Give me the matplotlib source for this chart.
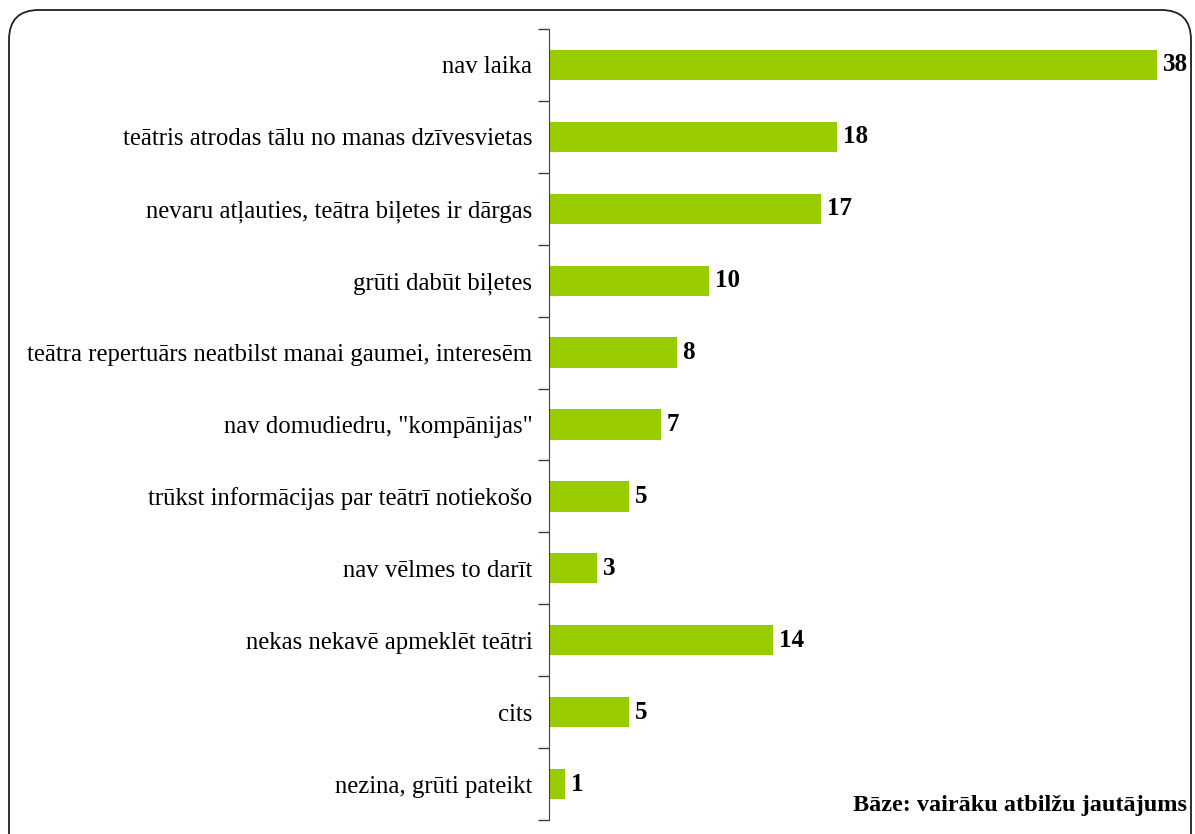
import numpy as np
import matplotlib
matplotlib.use('Agg')
import matplotlib.pyplot as plt
from matplotlib.patches import FancyBboxPatch

categories = ['nav laika',
              'teātris atrodas tālu no manas dzīvesvietas',
              'nevaru atļauties, teātra biļetes ir dārgas',
              'grūti dabūt biļetes',
              'teātra repertuārs neatbilst manai gaumei, interesēm',
              'nav domudiedru, "kompānijas"',
              'trūkst informācijas par teātrī notiekošo',
              'nav vēlmes to darīt',
              'nekas nekavē apmeklēt teātri',
              'cits',
              'nezina, grūti pateikt']
values = [38, 18, 17, 10, 8, 7, 5, 3, 14, 5, 1]

plt.rcParams['font.family'] = ['Liberation Serif', 'DejaVu Serif']

fig = plt.figure(figsize=(11.95, 8.34), dpi=100)
ax = fig.add_axes([549 / 1195, 1 - 820 / 834, (1157 - 549) / 1195, (820 - 29) / 834])

y = np.arange(len(categories))
ax.barh(y, values, height=0.42, color='#99CC00')
ax.set_ylim(len(categories) - 0.5, -0.5)
ax.set_xlim(0, 38)

# value labels next to each bar
for yi, v in zip(y, values):
    ax.text(v + 0.35, yi, str(v), va='center', ha='left', fontsize=18,
            fontweight='bold', clip_on=False)

ax.set_yticks(y)
ax.set_yticklabels(categories, fontsize=17.8)
ax.set_yticks(np.arange(-0.5, len(categories)), minor=True)
ax.tick_params(axis='y', which='major', length=0, pad=12)
ax.tick_params(axis='y', which='minor', length=8, width=1, color='#404040')
ax.set_xticks([])
for s in ['top', 'right', 'bottom']:
    ax.spines[s].set_visible(False)
ax.spines['left'].set_color('#404040')

fig.text(1187 / 1195, 1 - 806 / 834, 'Bāze: vairāku atbilžu jautājums',
         ha='right', va='center', fontsize=17.5, fontweight='bold')

# rounded outer frame, bottom edge runs off the canvas
frame = FancyBboxPatch((9 / 1195, -0.05), 1182 / 1195, 1 - 10 / 834 + 0.05,
                       boxstyle='round,pad=0,rounding_size=0.025',
                       transform=fig.transFigure, fill=False,
                       edgecolor='#202020', linewidth=1.3, mutation_aspect=1195 / 834)
fig.patches.append(frame)

fig.savefig('out.png', dpi=100)
